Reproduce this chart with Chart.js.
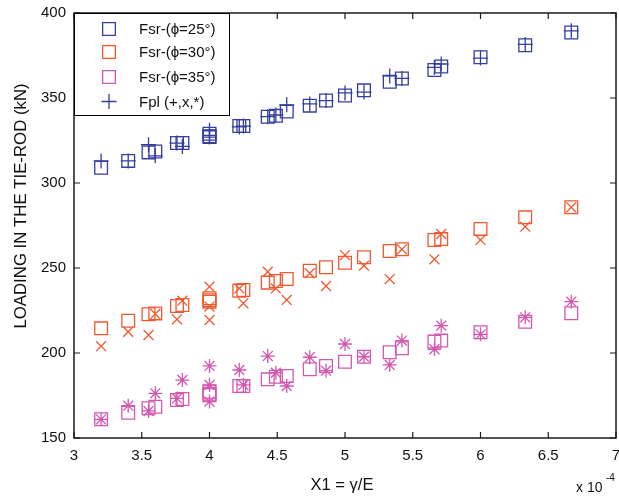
<!DOCTYPE html>
<html>
<head>
<meta charset="utf-8">
<script src="https://cdn.jsdelivr.net/npm/chart.js@4.4.0/dist/chart.umd.min.js"></script>
<style>
    html, body { margin: 0; padding: 0; background: #fff; }
    #wrap { width: 619px; height: 496px; }
</style>
</head>
<body>
<div id="wrap"><canvas id="chartRod"></canvas></div>
<script>
// X1 = gamma/E (x 10^-4), same abscissa for every series
const x1 = [3.2, 3.4, 3.55, 3.6, 3.76, 3.8, 4.0, 4.0, 4.0, 4.22, 4.25, 4.43, 4.49, 4.57,
            4.74, 4.86, 5.0, 5.14, 5.33, 5.42, 5.66, 5.71, 6.0, 6.33, 6.67];

// phi = 25
const fsr25 = [309, 313, 318, 318.5, 323.5, 323.5, 329, 327, 327.5, 333.5, 333.5, 339, 339.5, 342,
               345.5, 348.5, 351.5, 354.5, 359.5, 361.5, 366.5, 368.5, 374, 381, 388.5];
const fpl25 = [313, 313, 322.5, 316, 323.5, 321.5, 331, 327, 328, 333, 333.5, 339, 340, 346,
               346.5, 348.5, 353, 353.5, 363, 361.5, 368, 370, 373.5, 381.5, 389.5];

// phi = 30
const fsr30 = [214.5, 219, 222.8, 223.3, 227.6, 228.2, 232.2, 230.2, 231, 236.6, 237.1, 241.4, 242.4, 243.5,
               248.4, 250.4, 253.1, 256.3, 260, 261, 266.5, 267, 273, 279.8, 285.7];
const fpl30 = [204, 212.5, 210.6, 223, 219.8, 230.8, 239, 227.3, 219.4, 238, 229.2, 247.8, 238, 231.2,
               246.9, 239.4, 257.6, 251.4, 243.5, 261, 255.1, 270, 266.5, 274.3, 285.7];

// phi = 35
const fsr35 = [161, 164.9, 167.5, 168.4, 172.4, 172.9, 177.2, 175.3, 176, 180.6, 180.6, 184.5, 186, 186.5,
               190.4, 192.4, 194.9, 197.8, 200.4, 202.8, 206.7, 207.3, 212.2, 218.4, 223.4];
const fpl35 = [161, 169, 165.9, 176.3, 173.3, 184.1, 192.4, 181.2, 171.4, 190, 181.2, 198.2, 188.4, 180.6,
               197.5, 189.6, 205.3, 197.8, 193, 207.3, 202.2, 216.1, 211, 221, 230.2];

const legendLabels = ['Fsr-(\u03D5=25\u00B0)', 'Fsr-(\u03D5=30\u00B0)', 'Fsr-(\u03D5=35\u00B0)', 'Fpl (+,x,*)'];

const blue = 'rgb(52, 62, 160)';
const orange = 'rgb(242, 88, 46)';
const pink = 'rgb(212, 88, 176)';

function pts(ys) {
    return x1.map((x, i) => ({ x: x, y: ys[i] }));
}

function serie(label, ys, color, style, radius) {
    return {
        label: label,
        data: pts(ys),
        pointStyle: style,
        pointRadius: radius,
        pointBorderColor: color,
        pointBackgroundColor: 'rgba(0,0,0,0)',
        pointBorderWidth: 1.3,
        borderColor: color,
        showLine: false
    };
}

const font = 'Liberation Sans, Arial, Helvetica, sans-serif';

// frame, inward ticks, legend and axis titles
const framePlugin = {
    id: 'framePlugin',
    afterDraw(chart) {
        const ctx = chart.ctx;
        const a = chart.chartArea;
        const xs = chart.scales.x, ys = chart.scales.y;
        ctx.save();
        ctx.strokeStyle = '#1a1a1a';
        ctx.lineWidth = 1.5;
        ctx.strokeRect(a.left, a.top, a.right - a.left, a.bottom - a.top);
        ctx.lineWidth = 1.2;
        ctx.beginPath();
        xs.ticks.forEach(t => {
            const p = xs.getPixelForValue(t.value);
            ctx.moveTo(p, a.bottom); ctx.lineTo(p, a.bottom - 6);
            ctx.moveTo(p, a.top); ctx.lineTo(p, a.top + 6);
        });
        ys.ticks.forEach(t => {
            const p = ys.getPixelForValue(t.value);
            ctx.moveTo(a.left, p); ctx.lineTo(a.left + 6, p);
            ctx.moveTo(a.right, p); ctx.lineTo(a.right - 6, p);
        });
        ctx.stroke();

        // legend box
        const bx = a.left, by = a.top, bw = 155, bh = 102;
        ctx.fillStyle = '#fff';
        ctx.fillRect(bx, by, bw, bh);
        ctx.strokeStyle = '#000';
        ctx.lineWidth = 1;
        ctx.strokeRect(bx + 0.5, by + 0.5, bw, bh);
        const rows = [16, 39, 64, 88.5];
        chart.data.datasets.slice(0, 4).forEach((ds, i) => {
            ctx.strokeStyle = ds.pointBorderColor;
            ctx.fillStyle = 'rgba(0,0,0,0)';
            ctx.lineWidth = 1.3;
            Chart.helpers.drawPoint(ctx, {
                pointStyle: ds.pointStyle, radius: ds.pointRadius, borderWidth: 1.3
            }, bx + 35, by + rows[i]);
            ctx.fillStyle = '#111';
            ctx.font = '15px ' + font;
            ctx.textBaseline = 'middle';
            ctx.textAlign = 'left';
            ctx.fillText(legendLabels[i], bx + 65, by + rows[i] + 1);
        });

        // axis titles
        ctx.fillStyle = '#111';
        ctx.font = '16.8px ' + font;
        ctx.textAlign = 'center';
        ctx.textBaseline = 'middle';
        ctx.save();
        ctx.translate(21, 206);
        ctx.rotate(-Math.PI / 2);
        ctx.fillText('LOADING IN THE TIE-ROD (kN)', 0, 0);
        ctx.restore();
        ctx.font = '16.5px ' + font;
        ctx.fillText('X1 = \u03B3/E', 342, 485);
        ctx.textAlign = 'left';
        ctx.font = '14px ' + font;
        ctx.fillText('x 10', 576, 488);
        ctx.font = '10px ' + font;
        ctx.fillText('-4', 606, 478);
        ctx.restore();
    }
};

new Chart(document.getElementById('chartRod').getContext('2d'), {
    type: 'scatter',
    data: {
        datasets: [
            serie('Fsr-25', fsr25, blue, 'rect', 9),
            serie('Fsr-30', fsr30, orange, 'rect', 9),
            serie('Fsr-35', fsr35, pink, 'rect', 9),
            serie('Fpl-25', fpl25, blue, 'cross', 7.5),
            serie('Fpl-30', fpl30, orange, 'crossRot', 7),
            serie('Fpl-35', fpl35, pink, 'star', 7)
        ]
    },
    options: {
        responsive: true,
        maintainAspectRatio: false,
        animation: false,
        layout: { autoPadding: false, padding: { top: 13, right: 3, left: 0, bottom: 0 } },
        plugins: {
            legend: { display: false },
            tooltip: { enabled: false }
        },
        scales: {
            x: {
                type: 'linear',
                min: 3,
                max: 7,
                grid: { display: false, drawTicks: false },
                border: { display: false },
                ticks: {
                    stepSize: 0.5,
                    padding: 9,
                    color: '#111',
                    font: { family: font, size: 15 },
                    maxRotation: 0,
                    callback: v => String(v)
                },
                afterFit: s => { s.height = 58; s.paddingLeft = 0; s.paddingRight = 0; }
            },
            y: {
                min: 150,
                max: 400,
                grid: { display: false, drawTicks: false },
                border: { display: false },
                ticks: {
                    stepSize: 50,
                    padding: 8,
                    color: '#111',
                    font: { family: font, size: 15 }
                },
                afterFit: s => { s.width = 74; s.paddingTop = 0; s.paddingBottom = 0; }
            }
        }
    },
    plugins: [framePlugin]
});
</script>
</body>
</html>
